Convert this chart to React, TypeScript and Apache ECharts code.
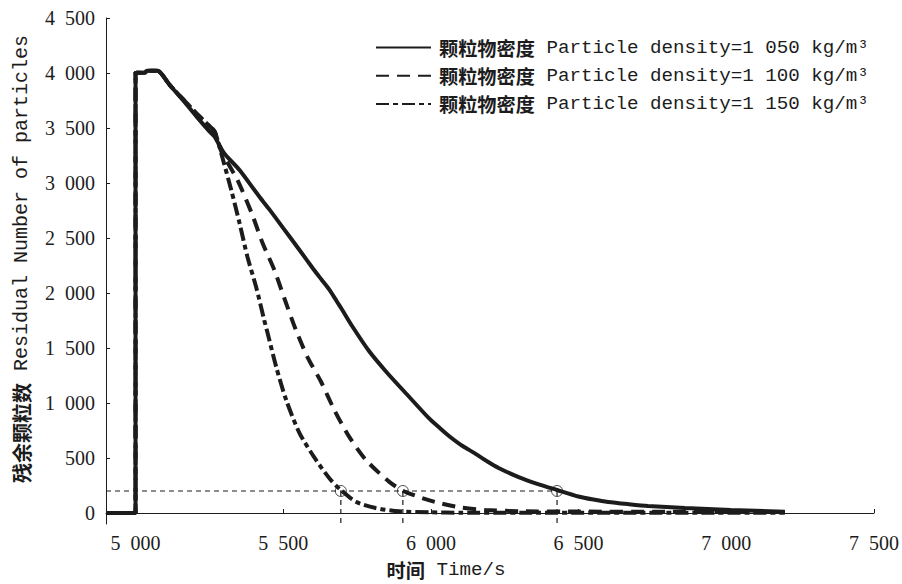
import React, { useEffect, useRef } from "react";
import * as echarts from "echarts";

// Time (s) vs residual number of particles
const density1050: [number, number][] = [
  [4900, 0], [5000, 0], [5000, 4000], [5033, 4005], [5038, 4020], [5075, 4020],
  [5090, 3985], [5116, 3890], [5160, 3754], [5211, 3590], [5250, 3470],
  [5268, 3420], [5300, 3270], [5352, 3118], [5420, 2872], [5453, 2760],
  [5500, 2590], [5555, 2391], [5600, 2225], [5630, 2120], [5656, 2030],
  [5680, 1930], [5700, 1845], [5733, 1700], [5791, 1470], [5850, 1280],
  [5926, 1057], [5993, 862], [6030, 772], [6061, 700], [6100, 622],
  [6150, 540], [6190, 470], [6229, 409], [6297, 327], [6360, 265],
  [6427, 209], [6499, 150], [6550, 122], [6600, 100], [6670, 80],
  [6735, 64], [6860, 45], [7015, 27], [7198, 12],
];

const density1100: [number, number][] = [
  [4900, 0], [5000, 0], [5000, 4000], [5033, 4005], [5038, 4020], [5075, 4020],
  [5090, 3985], [5116, 3890], [5160, 3765], [5211, 3618], [5240, 3545],
  [5268, 3466], [5290, 3290], [5345, 3027], [5393, 2727], [5430, 2454],
  [5470, 2209], [5504, 1950], [5543, 1663], [5582, 1418], [5628, 1193],
  [5673, 936], [5723, 694], [5780, 482], [5858, 285], [5905, 203],
  [5970, 136], [6027, 91], [6100, 50], [6184, 27], [6300, 16], [6500, 13],
  [6800, 11], [7198, 9],
];

const density1150: [number, number][] = [
  [4900, 0], [5000, 0], [5000, 4000], [5033, 4005], [5038, 4020], [5075, 4020],
  [5090, 3985], [5116, 3890], [5160, 3765], [5211, 3618], [5240, 3545],
  [5268, 3466], [5290, 3270], [5324, 2936], [5352, 2636], [5379, 2327],
  [5408, 2057], [5436, 1750], [5447, 1636], [5476, 1330], [5510, 1027],
  [5555, 727], [5611, 482], [5661, 300], [5695, 209], [5746, 103],
  [5813, 45], [5892, 15], [6000, 6], [6100, 3], [6300, 2], [7198, 2],
];

// Threshold of 200 particles and the times where each curve reaches it
const thresholdValue = 200;
const crossTimes = [5695, 5905, 6427];

const xTicks = [5000, 5500, 6000, 6500, 7000, 7500];
const yTicks = [0, 500, 1000, 1500, 2000, 2500, 3000, 3500, 4000, 4500];

const seriesNames = ["1 050", "1 100", "1 150"];

const INK = "#1c1c1c";
const CJK = "Noto Sans CJK SC";
const MONO = "Liberation Mono";
const SERIF = "Liberation Serif";

const fmt = (v: number) =>
  v >= 1000 ? `${Math.floor(v / 1000)}\u2002${String(v % 1000).padStart(3, "0")}` : String(v);

export default function App() {
  const ref = useRef<HTMLDivElement>(null);

  useEffect(() => {
    if (!ref.current) return;
    const chart = echarts.init(ref.current, undefined, { renderer: "svg" });

    const curveStyles = [
      { type: "solid" as any },
      { type: [13, 8] as any },
      { type: [13, 4, 5, 4] as any },
    ];
    const curves = [density1050, density1100, density1150];

    const guideStyle = { color: INK, width: 1.2, type: [5, 4] as any };

    const series: any[] = curves.map((d, i) => ({
      name: seriesNames[i],
      type: "line",
      data: d,
      symbol: "none",
      showSymbol: false,
      smooth: 0.25,
      lineStyle: { color: INK, width: 4, ...curveStyles[i] },
      itemStyle: { color: INK },
      z: 3,
    }));

    series.push({
      name: "threshold",
      type: "line",
      data: [[4900, thresholdValue], [crossTimes[2], thresholdValue]],
      symbol: "none",
      lineStyle: guideStyle,
      z: 2,
      silent: true,
    });
    crossTimes.forEach((t, i) => {
      series.push({
        name: "drop" + i,
        type: "line",
        data: [[t, thresholdValue], [t, -100]],
        symbol: "none",
        lineStyle: guideStyle,
        z: 2,
        silent: true,
      });
    });
    series.push({
      name: "marks",
      type: "scatter",
      data: crossTimes.map((t) => [t, thresholdValue]),
      symbol: "circle",
      symbolSize: 11,
      itemStyle: { color: "rgba(255,255,255,0)", borderColor: INK, borderWidth: 1 },
      z: 4,
      silent: true,
    });

    chart.setOption({
      animation: false,
      backgroundColor: "#ffffff",
      grid: { left: 106, right: 26, top: 18, bottom: 60 },
      xAxis: {
        type: "value",
        min: 4900,
        max: 7500,
        axisLine: { show: true, lineStyle: { color: INK, width: 1 } },
        axisTick: { show: true, inside: true, length: 4, lineStyle: { color: INK }, customValues: xTicks },
        axisLabel: {
          customValues: xTicks,
          formatter: (v: number) => fmt(v),
          color: INK,
          fontFamily: SERIF,
          fontSize: 20,
          margin: 9,
        },
        splitLine: { show: false },
      },
      yAxis: {
        type: "value",
        min: -100,
        max: 4500,
        axisLine: { show: true, lineStyle: { color: INK, width: 1 } },
        axisTick: { show: true, inside: true, length: 4, lineStyle: { color: INK }, customValues: yTicks },
        axisLabel: {
          customValues: yTicks,
          formatter: (v: number) => fmt(v),
          color: INK,
          fontFamily: SERIF,
          fontSize: 20,
          margin: 11,
        },
        splitLine: { show: false },
      },
      legend: {
        data: seriesNames,
        orient: "vertical",
        left: 370,
        top: 33,
        itemWidth: 55,
        itemHeight: 20,
        itemGap: 9,
        itemStyle: { opacity: 0 },
        formatter: (name: string) => `{cn|颗粒物密度}{en| Particle density=${name} kg/m³}`,
        textStyle: {
          color: INK,
          padding: [0, 0, 0, 3],
          rich: {
            cn: { fontFamily: CJK, fontSize: 19.2, fontWeight: "bold", color: INK, lineHeight: 20 },
            en: { fontFamily: MONO, fontSize: 19.2, color: INK, lineHeight: 20 },
          },
        },
      },
      graphic: [
        {
          type: "text",
          x: 446,
          y: 570,
          style: {
            text: "{cn|时间}{en| Time/s}",
            align: "center",
            verticalAlign: "middle",
            fill: INK,
            rich: {
              cn: { fontFamily: CJK, fontSize: 19.2, fontWeight: "bold", fill: INK, lineHeight: 20 },
              en: { fontFamily: MONO, fontSize: 19.2, fill: INK, lineHeight: 20 },
            },
          },
        },
        {
          type: "text",
          x: 21,
          y: 259,
          rotation: Math.PI / 2,
          style: {
            text: "{cn|残余颗粒数}{en| Residual Number of particles}",
            align: "center",
            verticalAlign: "middle",
            fill: INK,
            rich: {
              cn: { fontFamily: CJK, fontSize: 20, fontWeight: "bold", fill: INK, lineHeight: 22 },
              en: { fontFamily: MONO, fontSize: 20, fill: INK, lineHeight: 22 },
            },
          },
        },
      ],
      series,
    });

    return () => chart.dispose();
  }, []);

  return <div ref={ref} style={{ width: 902, height: 584, position: "absolute", left: 0, top: 0 }} />;
}
